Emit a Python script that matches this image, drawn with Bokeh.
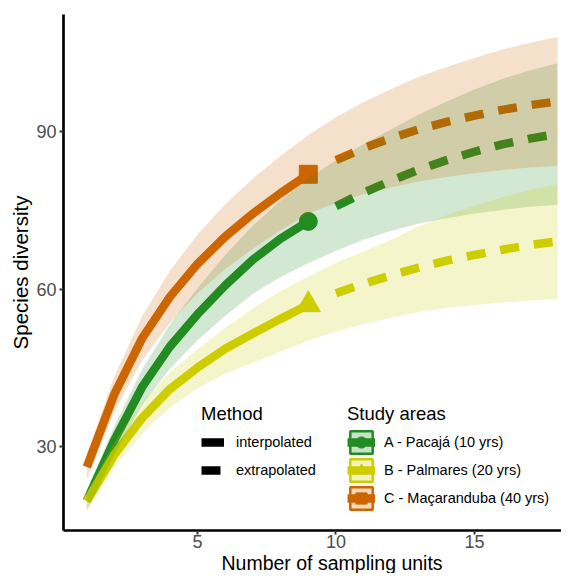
from bokeh.plotting import figure
from bokeh.models import Range1d, Legend, LegendItem, FixedTicker, Title
from bokeh.embed import file_html
from bokeh.resources import INLINE

FONT = "Liberation Sans"
NAN = float("nan")

# sampling units
x_all = [1, 2, 3, 4, 5, 6, 7, 8, 9, 10, 11, 12, 13, 14, 15, 16, 17, 18]
x_interp = [1, 2, 3, 4, 5, 6, 7, 8, 9]
x_extrap = [10, 11, 12, 13, 14, 15, 16, 17, 18]
x_obs = [9]

# A - Pacajá
a_interp = [19.6, 31.2, 41.3, 49.0, 55.2, 60.7, 65.6, 69.6, 72.9]
a_extrap = [75.8, 78.4, 80.7, 82.8, 84.6, 86.2, 87.6, 88.7, 89.6]
a_obs = [72.9]
a_lower = [17.7, 28.5, 37.9, 44.8, 50.2, 54.9, 59.1, 62.3, 64.9, 67.3, 69.4, 71.1, 72.5, 73.5, 74.4, 75.1, 75.7, 76.1]
a_upper = [21.5, 33.9, 44.7, 53.2, 60.2, 66.5, 72.1, 76.9, 81.1, 84.6, 87.7, 90.5, 93.3, 95.8, 98.1, 100.1, 101.7, 103.1]

# B - Palmares
b_interp = [19.5, 28.4, 35.4, 40.9, 45.0, 48.6, 51.5, 54.3, 57.0]
b_extrap = [59.2, 61.0, 62.6, 64.1, 65.4, 66.5, 67.5, 68.4, 69.1]
b_obs = [57.0]
b_lower = [17.7, 26.0, 32.4, 37.4, 41.0, 43.8, 45.9, 48.0, 50.1, 51.9, 53.3, 54.5, 55.6, 56.4, 56.9, 57.4, 57.8, 58.1]
b_upper = [21.3, 30.8, 38.4, 44.1, 48.5, 52.6, 56.3, 59.6, 62.4, 65.0, 67.2, 69.4, 72.0, 74.1, 75.9, 77.5, 78.9, 80.1]

# C - Maçaranduba
c_interp = [26.0, 40.0, 50.6, 58.5, 64.8, 70.0, 74.4, 78.3, 81.9]
c_extrap = [84.6, 86.9, 88.8, 90.5, 91.9, 93.1, 94.2, 95.1, 95.8]
c_obs = [81.9]
c_lower = [23.6, 36.6, 46.4, 53.5, 59.2, 63.8, 67.7, 71.2, 74.4, 76.4, 78.1, 79.4, 80.5, 81.4, 82.1, 82.7, 83.2, 83.5]
c_upper = [28.4, 43.4, 54.8, 63.5, 70.4, 76.2, 81.1, 85.4, 89.4, 92.8, 95.7, 98.2, 100.5, 102.4, 104.1, 105.7, 107.0, 108.1]

area_labels = ["A - Pacajá (10 yrs)", "B - Palmares (20 yrs)", "C - Maçaranduba (40 yrs)"]
method_labels = ["interpolated", "extrapolated"]
x_ticks = [5, 10, 15]
y_ticks = [30, 60, 90]

colors = ["#228B22", "#CDCD00", "#CD6600"]
markers = ["circle", "triangle", "square"]
msizes = [18, 24, 18]

p = figure(width=561, height=573,
           x_range=Range1d(0.158, 18.145), y_range=Range1d(13.9, 112.4),
           output_backend="svg", toolbar_location=None,
           min_border_top=14, min_border_right=0, min_border_left=63, min_border_bottom=0)
p.grid.visible = False
p.outline_line_color = None
p.background_fill_color = "white"

series = [
    (a_interp, a_extrap, a_obs, a_lower, a_upper),
    (b_interp, b_extrap, b_obs, b_lower, b_upper),
    (c_interp, c_extrap, c_obs, c_lower, c_upper),
]

LW = 8.5
DASH = "19 15"
line_r, pt_r = [], []
for (yi, ye, yo, lo, up), col, mk, ms in zip(series, colors, markers, msizes):
    line_r.append(p.line(x_interp, yi, line_color=col, line_width=LW))
    p.line(x_extrap, ye, line_color=col, line_width=LW, line_dash=DASH)
    pt_r.append(p.scatter(x_obs, yo, marker=mk, size=ms, fill_color=col, line_color=col))
for (yi, ye, yo, lo, up), col in zip(series, colors):
    p.varea(x=x_all, y1=lo, y2=up, fill_color=col, fill_alpha=0.2)

# legend-only renderers (one invisible NaN point each)
m_solid = p.line([NAN], [NAN], line_color="black", line_width=LW)
m_dash = p.line([NAN], [NAN], line_color="black", line_width=LW, line_dash=DASH)
key_boxes = [p.quad(left=[NAN], right=[NAN], top=[NAN], bottom=[NAN], fill_color=c,
                    fill_alpha=0.25, line_color=c, line_width=2.5) for c in colors]

# axes
for ax in (p.xaxis[0], p.yaxis[0]):
    ax.axis_line_width = 2.7
    ax.axis_line_color = "black"
    ax.major_tick_line_color = "#333333"
    ax.major_tick_line_width = 2
    ax.major_tick_in = 0
    ax.major_tick_out = 4
    ax.minor_tick_line_color = None
    ax.major_label_text_font = FONT
    ax.major_label_text_font_size = "18px"
    ax.major_label_text_color = "#4D4D4D"
    ax.axis_label_text_font = FONT
    ax.axis_label_text_font_style = "normal"
    ax.axis_label_text_color = "black"
    ax.axis_label_text_font_size = "20.5px"

p.xaxis.ticker = FixedTicker(ticks=x_ticks)
p.yaxis.ticker = FixedTicker(ticks=y_ticks)
p.xaxis.major_label_standoff = 0
p.xaxis.axis_label_standoff = 0
p.yaxis.major_label_standoff = 3
p.yaxis.axis_label = "Species diversity"
p.yaxis.axis_label_standoff = 1

xt = Title(text="Number of sampling units", align="left", offset=158,
           text_font=FONT, text_font_size="19.5px", text_font_style="normal",
           text_color="black", standoff=-1)
p.add_layout(xt, "below")

def style_legend(leg, gw, stand):
    leg.title_text_font = FONT
    leg.title_text_font_size = "18.5px"
    leg.title_text_font_style = "normal"
    leg.title_text_color = "black"
    leg.title_standoff = 3
    leg.label_text_font = FONT
    leg.label_text_font_size = "14.5px"
    leg.label_text_color = "black"
    leg.label_standoff = stand
    leg.glyph_width = gw
    leg.glyph_height = 28
    leg.label_height = 28
    leg.spacing = 0
    leg.padding = 0
    leg.margin = 0
    leg.border_line_alpha = 0
    leg.background_fill_alpha = 0

leg_m = Legend(items=[LegendItem(label=method_labels[0], renderers=[m_solid]),
                      LegendItem(label=method_labels[1], renderers=[m_dash])],
               title="Method", location=(138, 46))
style_legend(leg_m, 23, 12)
p.add_layout(leg_m)

leg_s = Legend(items=[LegendItem(label=lab, renderers=[kb, lr, pr])
                      for lab, kb, lr, pr in zip(area_labels, key_boxes, line_r, pt_r)],
               title="Study areas", location=(284, 18))
style_legend(leg_s, 28, 9)
p.add_layout(leg_s)

open("out.html", "w").write(file_html(p, INLINE))
